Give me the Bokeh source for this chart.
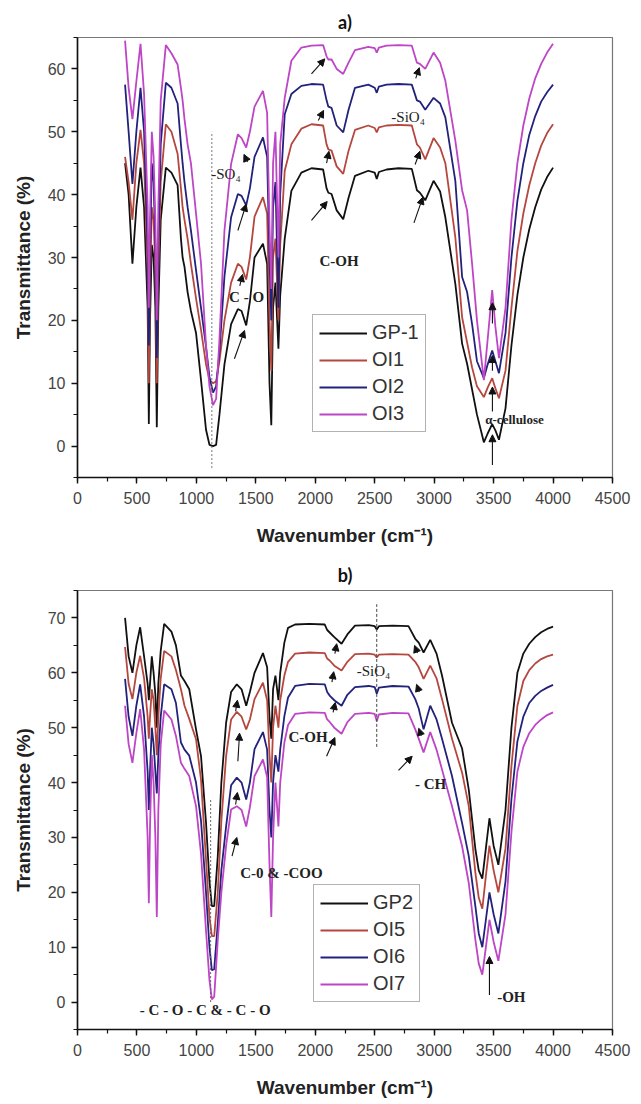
import numpy as np
from bokeh.plotting import figure
from bokeh.models import (Range1d, SingleIntervalTicker, Legend, LegendItem,
                          Label, Arrow, NormalHead)
from bokeh.layouts import column
from bokeh.embed import file_html
from bokeh.resources import INLINE

# ---------------- Panel a data ----------------
wn_a = [400, 430, 462, 495, 530, 560, 590, 600, 610, 625, 640, 655, 667, 680, 700,
        743, 790, 842, 870, 884, 900, 926, 954, 997, 1039, 1081, 1110, 1140, 1166,
        1194, 1236, 1292, 1349, 1380, 1419, 1450, 1489, 1560, 1595, 1615, 1630, 1645,
        1665, 1690, 1705, 1743, 1799, 1883, 1968, 2066, 2095, 2110, 2137, 2180, 2235,
        2280, 2334, 2446, 2500, 2517, 2535, 2600, 2700, 2812, 2855, 2880, 2925, 2995,
        3050, 3094, 3178, 3235, 3277, 3319, 3360, 3418, 3450, 3488, 3515, 3545, 3600,
        3650, 3700, 3750, 3800, 3850, 3900, 3950, 4000]
gp1 = [45, 40, 29, 38, 44.3, 38, 22, 3.5, 20, 32, 30, 22, 3, 22, 36,
       44.3, 43.5, 41.5, 33, 30, 28.5, 24.5, 21.5, 18, 10.5, 2.6, 0.2, 0, 0.2,
       5, 13, 19.4, 21.8, 21.5, 19.2, 23, 30, 32.2, 29, 10, 3.3, 22,
       26, 15.5, 24, 33, 40.6, 43.5, 44.2, 44, 41, 40.3, 40.1, 37.5, 36.1,
       39.5, 43, 43.8, 43.5, 42.5, 43.6, 44, 44.2, 44.1, 40.7, 40.3, 39.1, 42.2,
       40.5, 36.4, 25.8, 16.3, 13.1, 9, 5, 0.6, 2, 3.5, 2.5, 1, 6,
       16, 24, 30, 34.5, 38, 40.8, 42.8, 44.3]
oi1 = [46, 42, 36, 45, 50.3, 45, 28, 10, 26, 38, 36, 28, 10, 28, 42,
       51.2, 50, 46.5, 41, 38, 36, 33, 29, 23.5, 18.5, 13, 10.5, 10, 10.3,
       13.5, 20, 26, 29, 28.5, 26.5, 30, 36.5, 39.6, 37, 20, 12, 30,
       33, 20, 32, 43.8, 48, 50.5, 51.2, 51, 48, 47.2, 47, 44.5, 43.3,
       47, 50.3, 51, 50.6, 49.9, 50.7, 51, 51.1, 51, 48, 47.5, 45.6, 49,
       47.5, 45, 33.2, 20.5, 16.5, 12.5, 9.5, 7.8, 9.3, 10.8, 9.2, 7.6, 12,
       22, 31, 37, 41.5, 45, 47.8, 49.8, 51.2]
oi2 = [57.5, 50, 41.7, 50, 57, 50, 32, 16, 30, 45, 42, 32, 14, 32, 48,
       57.8, 57, 54.5, 48, 45, 42, 38, 34.3, 28, 22, 15.8, 11, 8.5, 9.5,
       15, 27, 36.4, 40.1, 39.8, 38.3, 41, 46, 49.1, 46, 30, 20, 38,
       42, 22, 40, 52.8, 56, 57.3, 57.6, 57.5, 55, 54, 53.8, 51, 49.9,
       53.5, 57, 57.5, 57, 56.2, 57.2, 57.5, 57.6, 57.5, 55, 54.8, 53.5, 55.4,
       54.5, 52.3, 42.2, 26.9, 24.5, 19.4, 13.5, 10.8, 13, 15.2, 13.5, 11.6, 18,
       30, 39, 45, 49.5, 52.5, 54.8, 56.3, 57.5]
oi3 = [64.5, 57, 52, 58, 64, 56, 38, 22, 36, 50, 46, 36, 20, 38, 55,
       63.8, 62.5, 60.7, 57, 55, 52, 48, 45, 37, 29, 16, 9.5, 6.5, 7.5,
       17, 34.3, 44.9, 49.6, 49, 47.5, 50, 54, 56.5, 53, 35, 25, 45,
       50, 30, 48, 55.4, 61.3, 63.4, 63.7, 63.8, 62, 61.5, 61.5, 60, 59.2,
       61, 63, 63.5, 63.3, 62.6, 63.4, 63.7, 63.8, 63.7, 61, 60.8, 60, 62.6,
       61, 58.1, 48.6, 40.7, 37.5, 29, 20, 10.5, 17, 24.8, 19, 14, 22,
       36, 45, 51, 55.3, 58.5, 60.8, 62.6, 64]

# ---------------- Panel b data ----------------
wn_b = [400, 430, 462, 495, 527, 560, 590, 600, 610, 625, 640, 655, 667, 680, 700,
        729, 790, 828, 870, 900, 940, 997, 1039, 1081, 1110, 1130, 1150, 1180, 1210,
        1250, 1292, 1340, 1380, 1419, 1450, 1489, 1560, 1595, 1615, 1630, 1645, 1665,
        1690, 1705, 1740, 1771, 1830, 1950, 2080, 2100, 2123, 2160, 2221, 2270, 2334,
        2450, 2500, 2517, 2535, 2650, 2784, 2841, 2870, 2911, 2967, 3020, 3066, 3150,
        3235, 3291, 3347, 3375, 3405, 3435, 3465, 3500, 3540, 3600, 3650, 3700, 3750,
        3800, 3850, 3900, 3950, 4000]
gp2 = [70, 63, 60, 65, 68.3, 63, 58, 55, 58, 63, 60, 56, 50, 58, 64,
       68.9, 67.5, 65, 59.5, 58.5, 57, 49.7, 44.8, 32.7, 22, 17.5, 17.5, 26.6, 40,
       50.9, 56.5, 57.9, 57, 54, 56.5, 60, 63.6, 61, 52, 48, 57, 59.5,
       55, 60, 65.5, 68.2, 68.8, 68.9, 68.8, 67.8, 67.3, 66.5, 65.3, 67, 68.6,
       68.7, 68.5, 67.9, 68.5, 68.6, 68.5, 66.2, 65.5, 63.7, 66, 63.5, 59.5, 50.9,
       46.2, 38.7, 27.8, 24, 22.5, 28, 33.5, 28.5, 25, 35, 50, 60, 63.5,
       65.3, 66.5, 67.4, 68, 68.4]
oi5 = [64.7, 58, 55.2, 60, 63.1, 59, 52, 48, 52, 57, 55, 50, 45, 52, 59,
       64, 63, 60.5, 57, 54, 51.6, 47.9, 40.5, 26, 15.5, 12, 12, 20, 33,
       44.8, 51.5, 52.9, 52, 49.7, 51.5, 55.2, 58.2, 55, 45, 40, 50, 54,
       50, 55, 59.5, 62, 63.5, 63.7, 63.6, 62.6, 62.2, 61.3, 60.4, 62, 63.4,
       63.5, 63.3, 62.8, 63.3, 63.4, 63.3, 62, 61, 58.9, 61.3, 59, 55.2, 48,
       41.8, 35.7, 23.5, 19, 17, 23, 28.5, 24, 20, 28, 43, 54, 58.5,
       60.5, 61.7, 62.5, 63, 63.3]
oi6 = [58.9, 52, 48.5, 54, 57.9, 52, 42, 35, 42, 50, 47, 42, 38, 45, 52,
       57.9, 57, 54.5, 47.3, 46, 44.9, 40, 33, 20, 10, 5.8, 6, 14.4, 24,
       32, 39.5, 40.9, 40, 36.9, 40, 46.1, 49.2, 46, 35, 30, 40, 45,
       42, 46, 52.1, 55.5, 57.6, 58, 57.9, 56.5, 55.8, 55, 54, 56, 57.4,
       57.6, 57.4, 56.2, 57.3, 57.6, 57.5, 55.2, 53.5, 49.7, 54, 51.5, 48, 41.2,
       32.6, 26.6, 17.4, 12.5, 10, 15, 20, 16, 12.5, 22, 37, 47.5, 52,
       54.5, 55.8, 56.7, 57.3, 57.8]
oi7 = [54, 47, 43.6, 49, 53.4, 46, 30, 18, 32, 45, 40, 30, 15.5, 35, 47,
       53.1, 51.5, 48.5, 43.6, 42.5, 41.2, 35.7, 27, 13, 4, 0.5, 1, 11.3, 20,
       28.5, 35.1, 35.7, 35, 32, 35.5, 41.2, 44.2, 41, 25, 15.5, 30, 40,
       32, 40, 47.3, 50.5, 52.5, 52.8, 52.7, 51.5, 51, 50, 48.9, 51, 52.5,
       52.7, 52.5, 51.2, 52.4, 52.7, 52.6, 49.7, 48, 45.5, 49.2, 46, 42.4, 35.7,
       28.4, 21.7, 11.3, 7, 5, 10, 15, 11, 7.5, 16, 31, 42, 46.5,
       49, 50.5, 51.5, 52.3, 52.8]

names_a = ["GP-1", "OI1", "OI2", "OI3"]
names_b = ["GP2", "OI5", "OI6", "OI7"]
colors = ["#111111", "#b5473f", "#22227c", "#bd45c6"]

SANS = "Liberation Sans"
SERIF = "Liberation Serif"


def make_panel(title, wn, series, names, yr, height, btop, bbottom, leg_loc):
    p = figure(width=641, height=height, x_range=Range1d(0, 4500),
               y_range=Range1d(*yr), output_backend="svg", toolbar_location=None,
               min_border_left=77, min_border_right=29, min_border_top=btop,
               min_border_bottom=bbottom)
    p.title.text = title
    p.title.align = "center"
    p.title.text_font = "Lato"
    p.title.text_font_size = "18px"
    p.title.text_font_style = "bold"
    p.title.text_color = "#111111"
    p.xgrid.visible = False
    p.ygrid.visible = False
    p.outline_line_color = "#777777"
    p.outline_line_width = 1.2
    p.xaxis.ticker = SingleIntervalTicker(interval=500, num_minor_ticks=2)
    p.yaxis.ticker = SingleIntervalTicker(interval=10, num_minor_ticks=2)
    for ax in (p.xaxis[0], p.yaxis[0]):
        ax.axis_line_color = "#111111"
        ax.axis_line_width = 1.6
        ax.major_tick_line_color = "#111111"
        ax.major_tick_line_width = 1.4
        ax.minor_tick_line_color = "#111111"
        ax.minor_tick_line_width = 1.2
        ax.major_tick_in = 0
        ax.major_tick_out = 6
        ax.minor_tick_in = 0
        ax.minor_tick_out = 4
        ax.major_label_text_font = SANS
        ax.major_label_text_font_size = "16px"
        ax.major_label_text_color = "#444444"
        ax.axis_label_text_font = SANS
        ax.axis_label_text_font_style = "bold"
        ax.axis_label_text_font_size = "19px"
        ax.axis_label_text_color = "#222222"
    p.xaxis.axis_label = "Wavenumber (cm\u207b\u00b9)"
    p.yaxis.axis_label = "Transmittance (%)"
    p.xaxis.major_label_standoff = 8
    p.xaxis.axis_label_standoff = 18
    p.yaxis.major_label_standoff = 6
    p.yaxis.axis_label_standoff = 11

    items = []
    for s, c, n in zip(series, colors, names):
        r = p.line(wn, s, line_color=c, line_width=1.8)
        items.append(LegendItem(label=n, renderers=[r]))
    leg = Legend(items=items, location=leg_loc, border_line_color="#666666",
                 border_line_width=1.5, background_fill_color="white",
                 background_fill_alpha=1.0, label_text_font=SANS,
                 label_text_font_size="20px", label_text_color="#333333",
                 glyph_width=48, glyph_height=22, label_height=22,
                 label_standoff=5, spacing=4, padding=6, margin=0)
    p.add_layout(leg, "center")
    return p


def arrow(p, x0, y0, x1, y1):
    p.add_layout(Arrow(end=NormalHead(size=7, fill_color="#111111",
                                      line_color="#111111", line_width=1),
                       x_start=x0, y_start=y0, x_end=x1, y_end=y1,
                       line_color="#111111", line_width=1.1))


def label(p, x, y, text, bold=True, size="15px"):
    p.add_layout(Label(x=x, y=y, text=text, text_font=SERIF,
                       text_font_size=size,
                       text_font_style="bold" if bold else "normal",
                       text_color="#222222", text_baseline="middle",
                       text_align="left"))


# ---------- panel a ----------
pa = make_panel("a)", wn_a, [gp1, oi1, oi2, oi3], names_a, (-5, 65), 555, 37, 78,
                (235, 45))
pa.segment(x0=[1130], y0=[-3.5], x1=[1130], y1=[50], line_color="#777777",
           line_width=1, line_dash="2 2")
label(pa, 1125, 43.3, "-SO\u2084", bold=False)
label(pa, 1275, 23.7, "C - O")
label(pa, 2035, 29.5, "C-OH")
label(pa, 2640, 52.3, "-SiO\u2084", bold=False)
label(pa, 3430, 4.2, "\u03b1-cellulose", size="13px")
for a in [(1968, 59.2, 2080, 61.6), (2025, 51.8, 2070, 53.4), (2095, 45.0, 2115, 46.9),
          (1968, 35.9, 2100, 38.9), (2845, 58.5, 2875, 60.2), (2840, 44.8, 2880, 46.9),
          (2830, 35.5, 2905, 39.6), (1349, 34.3, 1419, 38.5), (1430, 45.2, 1400, 46.4),
          (1365, 25.5, 1388, 27.3), (1320, 13.9, 1405, 18.4), (3490, 19.5, 3490, 22.8),
          (3490, 12.0, 3490, 14.4), (3490, 5.5, 3490, 9.4), (3490, -3.0, 3490, 1.8)]:
    arrow(pa, *a)

# ---------- panel b ----------
pb = make_panel("b)", wn_b, [gp2, oi5, oi6, oi7], names_b, (-5, 75), 549, 35, 75,
                (236, 27))
pb.segment(x0=[2517], y0=[46.5], x1=[2517], y1=[72.5], line_color="#444444",
           line_width=1, line_dash="3 2")
pb.segment(x0=[1120], y0=[0], x1=[1120], y1=[37], line_color="#666666",
           line_width=1, line_dash="2 2")
label(pb, 2348, 60.3, "-SiO\u2084", bold=False)
label(pb, 1774, 48.3, "C-OH")
label(pb, 2838, 39.7, "- CH")
label(pb, 1368, 23.5, "C-0 & -COO")
label(pb, 524, -1.5, "- C - O - C & - C - O")
label(pb, 3530, 1.0, "-OH")
for a in [(1330, 53.0, 1345, 55.0), (1349, 43.9, 1363, 49.0), (1330, 36.0, 1345, 38.2),
          (1300, 26.6, 1340, 30.0), (2165, 63.5, 2180, 65.3), (2140, 58.3, 2155, 60.2),
          (2150, 52.8, 2168, 54.6), (2095, 44.8, 2165, 48.2), (2860, 63.6, 2835, 65.0),
          (2875, 56.5, 2852, 57.9), (2892, 48.5, 2870, 49.9), (2700, 42.2, 2815, 44.8),
          (3465, 1.3, 3465, 8.3)]:
    arrow(pb, *a)

layout = column(pa, pb)
open("out.html", "w").write(file_html(layout, INLINE))
